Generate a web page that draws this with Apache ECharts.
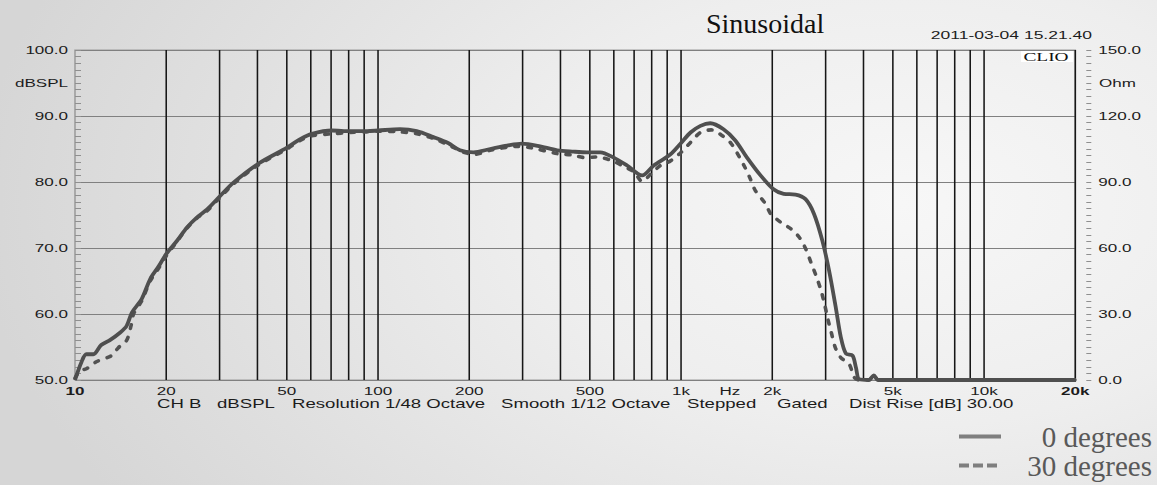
<!DOCTYPE html>
<html>
<head>
<meta charset="utf-8">
<script src="https://cdn.jsdelivr.net/npm/echarts@6/dist/echarts.min.js"></script>
<style>
html, body { margin: 0; padding: 0; width: 1157px; height: 485px; overflow: hidden; }
body { background: radial-gradient(ellipse 80% 115% at 78% 42%, #f7f7f7 0%, #eeeeee 40%, #d6d6d6 100%); }
#plot { position: absolute; left: 0; top: 0; height: 485px; transform-origin: 0 0; }
#over { position: absolute; left: 0; top: 0; width: 1157px; height: 485px; }
</style>
</head>
<body>
<div id="plot"></div>
<div id="over"></div>
<script>
// ---------------- DATA ----------------
const seriesNames = ['0 degrees', '30 degrees'];

const freq0 = [10, 10.5, 10.9, 11.5, 12.2, 13.0, 14.1, 14.8, 15.4, 16.6,
  17.7, 18.8, 20, 21.7, 23.4, 25.2, 27.2, 29.7, 33.3, 40.3,
  50, 55.3, 60.4, 70.4, 80.8, 91.8, 100, 118, 134, 152,
  170, 186, 206, 234, 266, 298, 342, 389, 441, 488,
  540, 598, 662, 742, 810, 920, 992, 1071, 1155, 1244,
  1376, 1505, 1645, 1823, 2012, 2173, 2377, 2565, 2734, 2915,
  3066, 3227, 3353, 3485, 3666, 3761, 3857, 4150, 4310, 4450,
  5000, 10000, 20000];
const db0 = [50, 52.7, 53.9, 53.9, 55.3, 56.0, 57.2, 58.2, 60.2, 62.3,
  65.3, 67.1, 69.1, 71.1, 73.1, 74.6, 75.8, 77.6, 79.9, 82.8,
  85.2, 86.5, 87.3, 87.8, 87.7, 87.7, 87.8, 88.0, 87.7, 86.8,
  85.9, 84.8, 84.5, 85.0, 85.5, 85.8, 85.4, 84.8, 84.6, 84.5,
  84.5, 83.7, 82.5, 81.0, 82.5, 84.2, 85.8, 87.5, 88.5, 88.9,
  88.0, 86.3, 83.7, 81.0, 78.9, 78.2, 78.1, 77.4, 75.2, 71.1,
  66.6, 61.0, 56.5, 54.0, 53.7, 51.9, 50.1, 50, 50.7, 50,
  50, 50, 50];

const freq30 = [10, 10.4, 10.9, 11.8, 13.2, 13.9, 14.8, 15.3, 15.6, 16.6,
  17.7, 18.8, 20, 21.7, 23.4, 25.2, 27.2, 29.7, 33.3, 40.3,
  50, 55.3, 60.4, 70.4, 80.8, 91.8, 100, 118, 134, 152,
  176, 191, 209, 234, 286, 318, 389, 435, 481, 524,
  585, 637, 698, 742, 792, 852, 920, 992, 1071, 1155,
  1254, 1346, 1460, 1620, 1686, 1752, 1893, 1968, 2125, 2296,
  2448, 2573, 2673, 2779, 2888, 2963, 3040, 3119, 3216, 3353,
  3573, 3713, 3850, 4150, 4310, 4450, 5000, 10000, 20000];
const db30 = [50.3, 51.4, 51.7, 52.8, 53.7, 54.9, 56.0, 58.2, 60.0, 62.0,
  65.0, 66.8, 68.8, 71.0, 73.0, 74.5, 75.6, 77.4, 79.7, 82.6,
  85.0, 86.3, 87.0, 87.3, 87.5, 87.6, 87.7, 87.6, 87.3, 86.6,
  85.3, 84.5, 84.2, 84.8, 85.4, 85.2, 84.3, 84.1, 83.7, 83.8,
  83.3, 82.5, 81.5, 80.1, 81.2, 82.5, 83.2, 84.4, 86.0, 87.5,
  87.9, 87.2, 85.8, 82.2, 80.5, 78.7, 76.7, 75.2, 73.9, 72.9,
  71.6, 69.8, 67.8, 65.8, 63.5, 61.5, 59.2, 57.2, 54.9, 53.4,
  52.4, 50.4, 50, 50, 50.7, 50, 50, 50, 50];

// vertical grid lines (Hz)
const gridFreqs = [20, 30, 40, 50, 60, 70, 80, 90, 100,
  200, 300, 400, 500, 600, 700, 800, 900, 1000,
  2000, 3000, 4000, 5000, 6000, 7000, 8000, 9000, 10000, 20000];
// x tick labels
const xTickValues = [10, 20, 50, 100, 200, 500, 1000, 1450, 2000, 5000, 10000, 20000];
const xTickLabels = ['10', '20', '50', '100', '200', '500', '1k', 'Hz', '2k', '5k', '10k', '20k'];
// y axes
const dbRange = [50, 100];
const ohmRange = [0, 150];
const titleText = 'Sinusoidal';
const dateText = '2011-03-04 15.21.40';
const brandText = 'CLIO';
const leftUnit = 'dBSPL';
const rightUnit = 'Ohm';
const infoTexts = ['CH B', 'dBSPL', 'Resolution 1/48 Octave', 'Smooth 1/12 Octave', 'Stepped', 'Gated', 'Dist Rise [dB] 30.00'];

// ---------------- LAYOUT ----------------
const W = 1157, H = 485;
const S = 1.55; // horizontal stretch of the analyser plot
const G = { left: 75, right: 1076, top: 50, bottom: 380 };
const infoX = [157, 217, 292, 501, 687, 777, 849];
const boldLabels = new Set(['10', '20k']);
const SANS = 'Liberation Sans, Arial, sans-serif';
const SERIF = 'Liberation Serif, Times New Roman, serif';
const sx = v => v / S;

const plotDiv = document.getElementById('plot');
plotDiv.style.width = (W / S) + 'px';
plotDiv.style.transform = 'scaleX(' + S + ')';

const c1 = echarts.init(plotDiv, null, { renderer: 'svg' });
const c2 = echarts.init(document.getElementById('over'), null, { renderer: 'svg' });

const txt = (x, y, text, align, size, family, extra) => ({
  type: 'text', x: x, y: y, silent: true,
  style: Object.assign({ text: text, align: align, verticalAlign: 'middle',
    fontFamily: family || SANS, fontSize: size || 11, fill: '#1c1c1c' }, extra || {})
});

c1.setOption({
  animation: false,
  backgroundColor: 'transparent',
  grid: { left: sx(G.left), right: sx(W - G.right), top: G.top, bottom: H - G.bottom,
    show: true, borderColor: '#9c9c9c', borderWidth: 1 },
  xAxis: { type: 'log', logBase: 10, min: 10, max: 20000,
    axisLine: { show: false }, axisTick: { show: false }, axisLabel: { show: false }, splitLine: { show: false } },
  yAxis: [
    { type: 'value', min: dbRange[0], max: dbRange[1], interval: 10, position: 'left',
      axisLine: { show: false },
      axisTick: { show: true, inside: true, length: sx(6), lineStyle: { color: '#8f8f8f' } },
      minorTick: { show: true, splitNumber: 10, length: sx(6), lineStyle: { color: '#8f8f8f' } },
      axisLabel: { formatter: v => v.toFixed(1), margin: sx(7), color: '#1c1c1c', fontFamily: SANS, fontSize: 11 },
      splitLine: { show: true, lineStyle: { color: '#808080', width: 1 } } },
    { type: 'value', min: ohmRange[0], max: ohmRange[1], interval: 30, position: 'right', offset: sx(11),
      axisLine: { show: false },
      axisTick: { show: true, inside: false, length: sx(5), lineStyle: { color: '#8f8f8f' } },
      minorTick: { show: true, splitNumber: 10, length: sx(5), lineStyle: { color: '#8f8f8f' } },
      axisLabel: { formatter: v => v.toFixed(1), margin: sx(12), color: '#1c1c1c', fontFamily: SANS, fontSize: 11 },
      splitLine: { show: false } }
  ],
  series: [
    { type: 'custom', name: 'gridlines', silent: true, clip: false, z: 1,
      data: gridFreqs.map(f => [f, dbRange[0]]),
      renderItem: (params, api) => {
        const a = api.coord([api.value(0), dbRange[1]]);
        const b = api.coord([api.value(0), dbRange[0]]);
        return { type: 'line', shape: { x1: a[0], y1: a[1], x2: b[0], y2: b[1] },
          style: { stroke: '#161616', lineWidth: 1 } };
      } },
    { type: 'custom', name: 'xlabels', silent: true, clip: false, z: 1,
      data: xTickValues.map(f => [f, dbRange[0]]),
      renderItem: (params, api) => {
        const p = api.coord([api.value(0), dbRange[0]]);
        const label = xTickLabels[params.dataIndex];
        return { type: 'text', x: p[0], y: p[1] + 11,
          style: { text: label, align: 'center', verticalAlign: 'middle', fontFamily: SANS, fontSize: 11,
            fontWeight: boldLabels.has(label) ? 'bold' : 'normal', fill: '#1c1c1c' } };
      } }
  ],
  graphic: [
    txt(sx(68), 83, leftUnit, 'right'),
    txt(sx(1099), 83, rightUnit, 'left'),
    txt(sx(1092), 35, dateText, 'right', 11.3),
    { type: 'rect', silent: true, shape: { x: sx(1021), y: 50.5, width: sx(52), height: 11.5 }, style: { fill: '#ffffff' } },
    txt(sx(1046), 56.5, brandText, 'center', 12.5, SERIF, { fill: '#111' })
  ].concat(infoTexts.map((t, i) => txt(sx(infoX[i]), 404, t, 'left', 12)))
});

c2.setOption({
  animation: false,
  backgroundColor: 'transparent',
  title: { text: titleText, left: 706, top: 9, padding: 0,
    textStyle: { fontFamily: SERIF, fontSize: 28, fontWeight: 'normal', color: '#111' } },
  legend: {
    orient: 'vertical', left: 957, top: 422, width: 200, height: 62, padding: 0, itemGap: 0, itemWidth: 42, itemHeight: 14,
    formatter: n => '{a|' + n + '}',
    textStyle: { rich: { a: { width: 146, height: 29, align: 'right', fontFamily: SERIF, fontSize: 29, lineHeight: 29, color: '#595959' } } },
    data: [
      { name: seriesNames[0], itemStyle: { color: 'rgba(0,0,0,0)', borderWidth: 0 },
        lineStyle: { color: '#7f7f7f', width: 4, type: 'solid' } },
      { name: seriesNames[1], itemStyle: { color: 'rgba(0,0,0,0)', borderWidth: 0 },
        lineStyle: { color: '#7f7f7f', width: 4, type: [10, 4], cap: 'butt' } }
    ]
  },
  grid: { left: G.left, right: W - G.right, top: G.top, bottom: H - G.bottom },
  xAxis: { type: 'log', logBase: 10, min: 10, max: 20000, show: false },
  yAxis: { type: 'value', min: dbRange[0], max: dbRange[1], show: false },
  series: [
    { name: seriesNames[1], type: 'line', symbol: 'none', smooth: 0.3, clip: false, z: 2,
      data: freq30.map((f, i) => [f, db30[i]]),
      itemStyle: { color: '#525252' },
      lineStyle: { color: '#525252', width: 3.6, type: [4, 9], cap: 'round' } },
    { name: seriesNames[0], type: 'line', symbol: 'none', smooth: 0.3, clip: false, z: 3,
      data: freq0.map((f, i) => [f, db0[i]]),
      itemStyle: { color: '#4f4f4f' },
      lineStyle: { color: '#4f4f4f', width: 3.8 } }
  ]
});
</script>
</body>
</html>
